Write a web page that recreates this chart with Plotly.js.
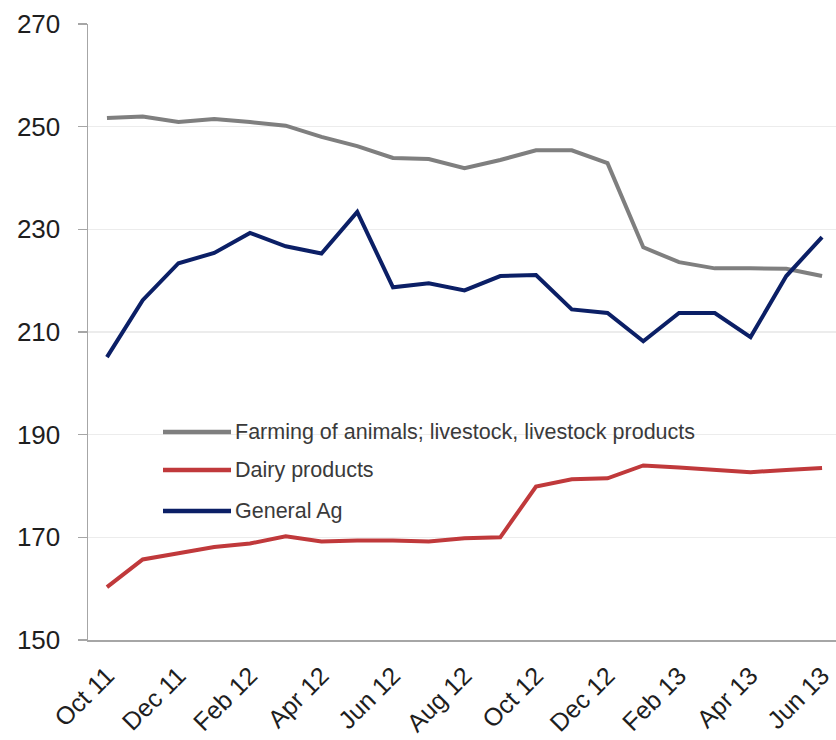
<!DOCTYPE html>
<html>
<head>
<meta charset="utf-8">
<script src="https://cdn.plot.ly/plotly-3.0.1.min.js"></script>
<style>
  html, body { margin: 0; padding: 0; background: #ffffff; }
  #chart { width: 836px; height: 740px; }
</style>
</head>
<body>
<div id="chart"></div>
<script>
// Monthly price index, Oct 2011 – Jun 2013
const months = ['Oct 11','Nov 11','Dec 11','Jan 12','Feb 12','Mar 12','Apr 12','May 12',
  'Jun 12','Jul 12','Aug 12','Sep 12','Oct 12','Nov 12','Dec 12','Jan 13','Feb 13',
  'Mar 13','Apr 13','May 13','Jun 13'];

const livestock = [251.7, 252.0, 250.9, 251.5, 250.9, 250.2, 248.0, 246.2, 243.9, 243.7,
  241.9, 243.5, 245.4, 245.4, 242.9, 226.5, 223.6, 222.4, 222.4, 222.3, 220.9];

const dairy = [160.3, 165.7, 166.9, 168.1, 168.8, 170.2, 169.2, 169.4, 169.4, 169.2,
  169.8, 170.0, 179.9, 181.3, 181.5, 184.0, 183.6, 183.1, 182.7, 183.1, 183.5];

const generalAg = [205.1, 216.2, 223.4, 225.4, 229.3, 226.7, 225.3, 233.4, 218.7, 219.5,
  218.1, 220.9, 221.1, 214.4, 213.7, 208.2, 213.7, 213.7, 209.0, 220.9, 228.5];

const seriesNames = ['Farming of animals; livestock, livestock products', 'Dairy products', 'General Ag'];
const seriesColors = ['#7f7f7f', '#c0393b', '#0b1f66'];
const yTicks = [150, 170, 190, 210, 230, 250, 270];

// every other month gets a label
const xTicks = months.filter((m, i) => i % 2 === 0);

const W = 836, H = 740;
const M = { l: 88, r: 0, t: 24, b: 100 };
const plotW = W - M.l - M.r, plotH = H - M.t - M.b;
const px = x => (x - M.l) / plotW;
const py = y => (H - M.b - y) / plotH;

const values = [livestock, dairy, generalAg];
const traces = values.map((v, k) => ({
  type: 'scatter',
  mode: 'lines',
  x: months,
  y: v,
  name: seriesNames[k],
  line: { color: seriesColors[k], width: 4 },
  showlegend: false,
  hoverinfo: 'x+y+name'
}));

// hand-drawn key inside the plot area
const keyRows = [432, 470, 511];
const shapes = keyRows.map((yy, k) => ({
  type: 'line', xref: 'paper', yref: 'paper',
  x0: px(163), x1: px(231), y0: py(yy), y1: py(yy),
  line: { color: seriesColors[k], width: 4.5 }
}));
const annotations = keyRows.map((yy, k) => ({
  xref: 'paper', yref: 'paper',
  x: px(233), y: py(yy),
  xanchor: 'left', yanchor: 'middle',
  text: seriesNames[k],
  showarrow: false,
  font: { family: 'Liberation Sans, Arial, sans-serif', size: 21.5, color: '#3a3a3a' }
}));

const layout = {
  width: W, height: H,
  margin: M,
  paper_bgcolor: '#ffffff',
  plot_bgcolor: '#ffffff',
  font: { family: 'Liberation Sans, Arial, sans-serif', color: '#222222' },
  xaxis: {
    type: 'category',
    categoryorder: 'array',
    categoryarray: months,
    range: [-0.53, 20.39],
    tickvals: xTicks,
    ticktext: xTicks,
    tickangle: -45,
    ticks: '',
    ticklabelstandoff: 9,
    showgrid: false,
    showline: true,
    linecolor: '#a6a6a6',
    linewidth: 2,
    tickfont: { size: 25, color: '#1e1e1e' },
    zeroline: false,
    fixedrange: true
  },
  yaxis: {
    range: [150, 270],
    tickvals: yTicks,
    ticks: 'outside',
    ticklen: 9,
    tickcolor: '#a6a6a6',
    tickwidth: 1.5,
    ticklabelstandoff: 12,
    showline: true,
    linecolor: '#a6a6a6',
    linewidth: 1.5,
    showgrid: true,
    gridcolor: '#ececec',
    gridwidth: 1.5,
    zeroline: false,
    tickfont: { size: 26, color: '#1e1e1e' },
    fixedrange: true
  },
  shapes: shapes,
  annotations: annotations
};

Plotly.newPlot('chart', traces, layout, { displayModeBar: false, staticPlot: true });
</script>
</body>
</html>
